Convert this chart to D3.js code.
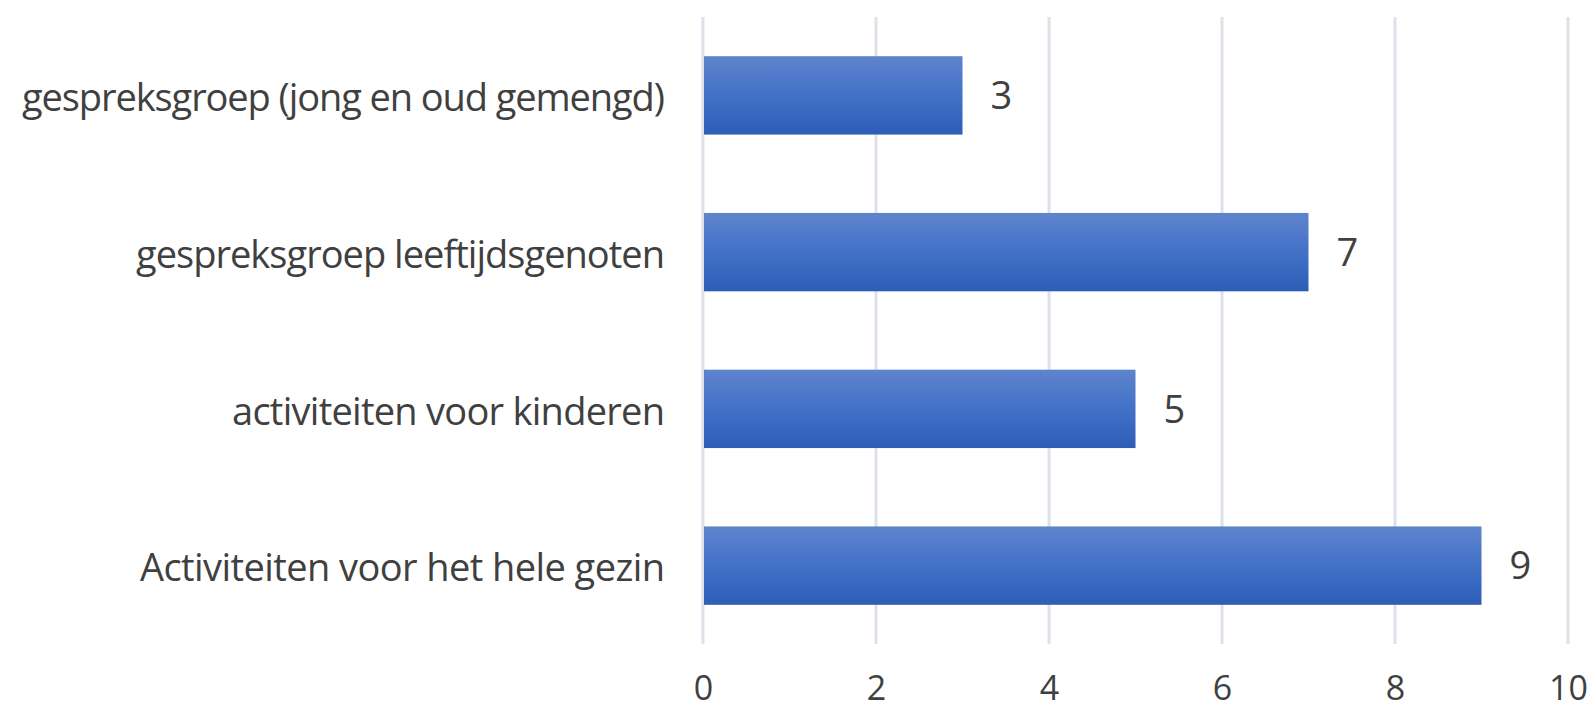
<!DOCTYPE html>
<html>
<head>
<meta charset="utf-8">
<script src="https://cdn.jsdelivr.net/npm/d3@7"></script>
<style>
  html, body { margin: 0; padding: 0; background: #fff; }
  svg { display: block; }
  text { font-family: "Open Sans", "Noto Sans", sans-serif; fill: #404040; }
</style>
</head>
<body>
<svg id="chart" width="1595" height="709"></svg>
<script>
const categories = [
  "gespreksgroep (jong en oud gemengd)",
  "gespreksgroep leeftijdsgenoten",
  "activiteiten voor kinderen",
  "Activiteiten voor het hele gezin"
];
const values = [3, 7, 5, 9];
const tickValues = [0, 2, 4, 6, 8, 10];
const labelWidths = [643, 529, 433, 525];

const svg = d3.select("#chart");
const x = d3.scaleLinear().domain([0, 10]).range([703, 1568]);
const y = d3.scaleBand().domain(categories).range([17, 644]).paddingInner(0.5).paddingOuter(0.25);

const defs = svg.append("defs");
const grad = defs.append("linearGradient").attr("id", "barGrad")
  .attr("x1", 0).attr("y1", 0).attr("x2", 0).attr("y2", 1);
grad.append("stop").attr("offset", "0%").attr("stop-color", "#5f84cd");
grad.append("stop").attr("offset", "50%").attr("stop-color", "#4271c8");
grad.append("stop").attr("offset", "100%").attr("stop-color", "#2d5db5");

// gridlines
svg.append("g").selectAll("line").data(tickValues).join("line")
  .attr("x1", d => x(d)).attr("x2", d => x(d))
  .attr("y1", 17).attr("y2", 644)
  .attr("stroke", "#dee1e9").attr("stroke-width", 3);

// x axis tick labels
const xAxis = d3.axisBottom(x).tickValues(tickValues).tickSize(0).tickPadding(0);
const gx = svg.append("g").attr("transform", "translate(0,700)").call(xAxis);
gx.select(".domain").remove();
gx.selectAll("text").attr("font-size", 34).attr("fill", "#404040")
  .attr("font-family", '"Open Sans", "Noto Sans", sans-serif')
  .attr("dy", "0em");

// bars
svg.append("g").selectAll("rect").data(categories).join("rect")
  .attr("x", x(0) + 1)
  .attr("y", d => y(d))
  .attr("width", (d, i) => x(values[i]) - x(0) - 1)
  .attr("height", y.bandwidth())
  .attr("fill", "url(#barGrad)");

// value labels
svg.append("g").selectAll("text").data(categories).join("text")
  .attr("x", (d, i) => x(values[i]) + 28)
  .attr("y", d => y(d) + y.bandwidth() / 2)
  .attr("dy", "0.36em")
  .attr("font-size", 38)
  .text((d, i) => values[i]);

// category labels
svg.append("g").selectAll("text").data(categories).join("text")
  .attr("x", 665)
  .attr("y", d => y(d) + y.bandwidth() / 2 + 2)
  .attr("dy", "0.36em")
  .attr("text-anchor", "end")
  .attr("font-size", 38)
  .attr("textLength", (d, i) => labelWidths[i])
  .attr("lengthAdjust", "spacing")
  .text(d => d);
</script>
</body>
</html>
